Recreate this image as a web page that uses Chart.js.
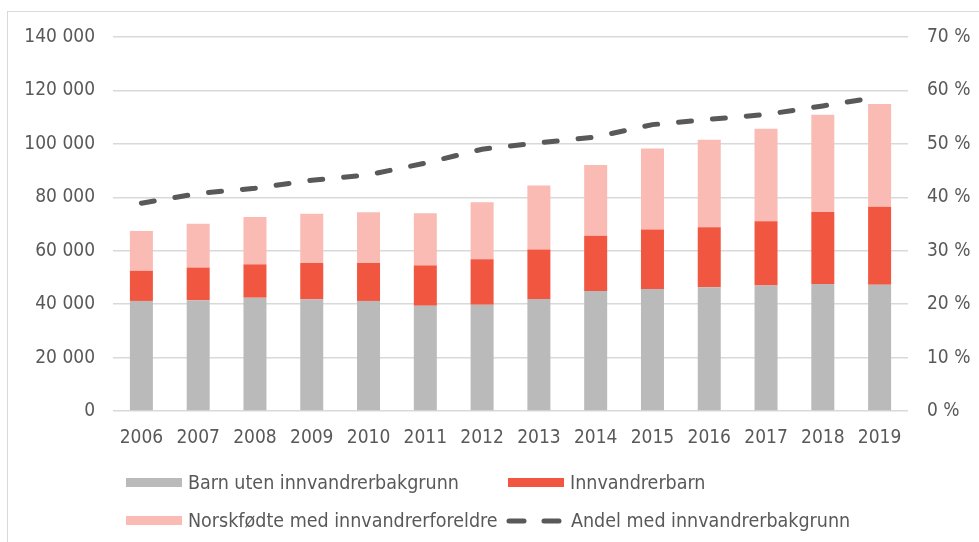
<!DOCTYPE html>
<html>
<head>
<meta charset="utf-8">
<script src="https://cdn.jsdelivr.net/npm/chart.js@4/dist/chart.umd.min.js"></script>
<style>
  html, body { margin: 0; padding: 0; background: #fff; }
  body { width: 979px; height: 542px; position: relative; overflow: hidden;
         font-family: "DejaVu Sans Condensed", "Liberation Sans", sans-serif; }
  #frame { position: absolute; left: 7px; top: 11px; width: 1000px; height: 600px;
           border-left: 1px solid #d9d9d9; border-top: 1px solid #d9d9d9; }
  #wrap { position: absolute; left: 0; top: 0; width: 979px; height: 542px; }
  .leg { position: absolute; display: flex; align-items: center; color: #595959; font-size: 19.5px; white-space: nowrap; }
  .sw { width: 56px; height: 9px; margin-right: 6px; }
</style>
</head>
<body>
<div id="frame"></div>
<div id="wrap"><canvas id="c" width="979" height="542"></canvas></div>
<div id="legend"></div>
<script>
const years = ["2006","2007","2008","2009","2010","2011","2012","2013","2014","2015","2016","2017","2018","2019"];
const utenBakgrunn = [41200, 41400, 42400, 41800, 41200, 39400, 39800, 41900, 44900, 45700, 46300, 47000, 47500, 47300];
const innvandrerbarn = [11300, 12300, 12500, 13600, 14200, 15100, 17000, 18600, 20700, 22200, 22500, 24000, 27000, 29200];
const norskfodte = [14900, 16400, 17700, 18400, 19000, 19500, 21300, 23900, 26500, 30400, 32700, 34700, 36400, 38400];
const andel = [38.9, 40.7, 41.7, 43.2, 44.2, 46.4, 49.0, 50.2, 51.3, 53.6, 54.6, 55.5, 57.1, 58.8];
const seriesNames = ["Barn uten innvandrerbakgrunn", "Innvandrerbarn", "Norskfødte med innvandrerforeldre", "Andel med innvandrerbakgrunn"];
const leftTicks = [0, 20000, 40000, 60000, 80000, 100000, 120000, 140000];
const rightTicks = [0, 10, 20, 30, 40, 50, 60, 70];

const FONT = "'DejaVu Sans Condensed', 'Liberation Sans', sans-serif";
const TXT = "#595959";
const GRID = "#d9d9d9";
const colors = ["#bababa", "#f15641", "#f9bbb4", "#595959"];

function fmtThousands(v) {
  return String(v).replace(/\B(?=(\d{3})+(?!\d))/g, " ");
}

const chart = new Chart(document.getElementById("c"), {
  data: {
    labels: years,
    datasets: [
      { type: "line", label: seriesNames[3], data: andel, yAxisID: "y1",
        borderColor: colors[3], backgroundColor: colors[3], borderWidth: 5,
        borderDash: [13, 21], borderCapStyle: "round", pointRadius: 0, tension: 0, order: 0 },
      { type: "bar", label: seriesNames[0], data: utenBakgrunn, backgroundColor: colors[0], yAxisID: "y", stack: "s", order: 1,
        barPercentage: 0.405, categoryPercentage: 1 },
      { type: "bar", label: seriesNames[1], data: innvandrerbarn, backgroundColor: colors[1], yAxisID: "y", stack: "s", order: 1,
        barPercentage: 0.405, categoryPercentage: 1 },
      { type: "bar", label: seriesNames[2], data: norskfodte, backgroundColor: colors[2], yAxisID: "y", stack: "s", order: 1,
        barPercentage: 0.405, categoryPercentage: 1 }
    ]
  },
  options: {
    responsive: false,
    animation: false,
    layout: { padding: { top: 37, bottom: 91, left: 0, right: 0 } },
    plugins: { legend: { display: false }, tooltip: { enabled: false } },
    scales: {
      x: {
        stacked: true,
        grid: { display: false, drawTicks: false },
        border: { display: false },
        ticks: { color: TXT, font: { family: FONT, size: 19 }, padding: 16, maxRotation: 0, autoSkip: false },
        afterFit: s => { s.height = 40; }
      },
      y: {
        position: "left", stacked: true, min: 0, max: 140000,
        afterBuildTicks: s => { s.ticks = leftTicks.map(v => ({ value: v })); },
        grid: { color: GRID, lineWidth: 1.5, drawTicks: false },
        border: { display: false },
        ticks: { color: TXT, font: { family: FONT, size: 19 }, padding: 18, callback: v => fmtThousands(v) },
        afterFit: s => { s.width = 113; }
      },
      y1: {
        position: "right", stacked: false, min: 0, max: 70,
        afterBuildTicks: s => { s.ticks = rightTicks.map(v => ({ value: v })); },
        grid: { display: false, drawTicks: false },
        border: { display: false },
        ticks: { color: TXT, font: { family: FONT, size: 19 }, padding: 19, callback: v => v + " %" },
        afterFit: s => { s.width = 71; }
      }
    }
  }
});

// HTML legend built from the chart's datasets
const legendPos = [
  { ds: 1, left: 126, top: 482 },
  { ds: 2, left: 508, top: 482 },
  { ds: 3, left: 126, top: 520 },
  { ds: 0, left: 506, top: 520 }
];
const legEl = document.getElementById("legend");
legendPos.forEach(p => {
  const d = chart.data.datasets[p.ds];
  const item = document.createElement("div");
  item.className = "leg";
  item.style.left = p.left + "px";
  item.style.top = (p.top - 11) + "px";
  let sw;
  if (d.type === "line") {
    sw = document.createElement("canvas");
    sw.width = 58; sw.height = 10;
    sw.style.marginRight = "7px";
    const g = sw.getContext("2d");
    g.strokeStyle = d.borderColor; g.lineWidth = 5; g.lineCap = "round";
    g.beginPath(); g.moveTo(3, 5); g.lineTo(18, 5); g.moveTo(38, 5); g.lineTo(53, 5); g.stroke();
  } else {
    sw = document.createElement("div");
    sw.className = "sw";
    sw.style.background = d.backgroundColor;
  }
  const t = document.createElement("span");
  t.textContent = d.label;
  item.appendChild(sw); item.appendChild(t);
  legEl.appendChild(item);
});
</script>
</body>
</html>
